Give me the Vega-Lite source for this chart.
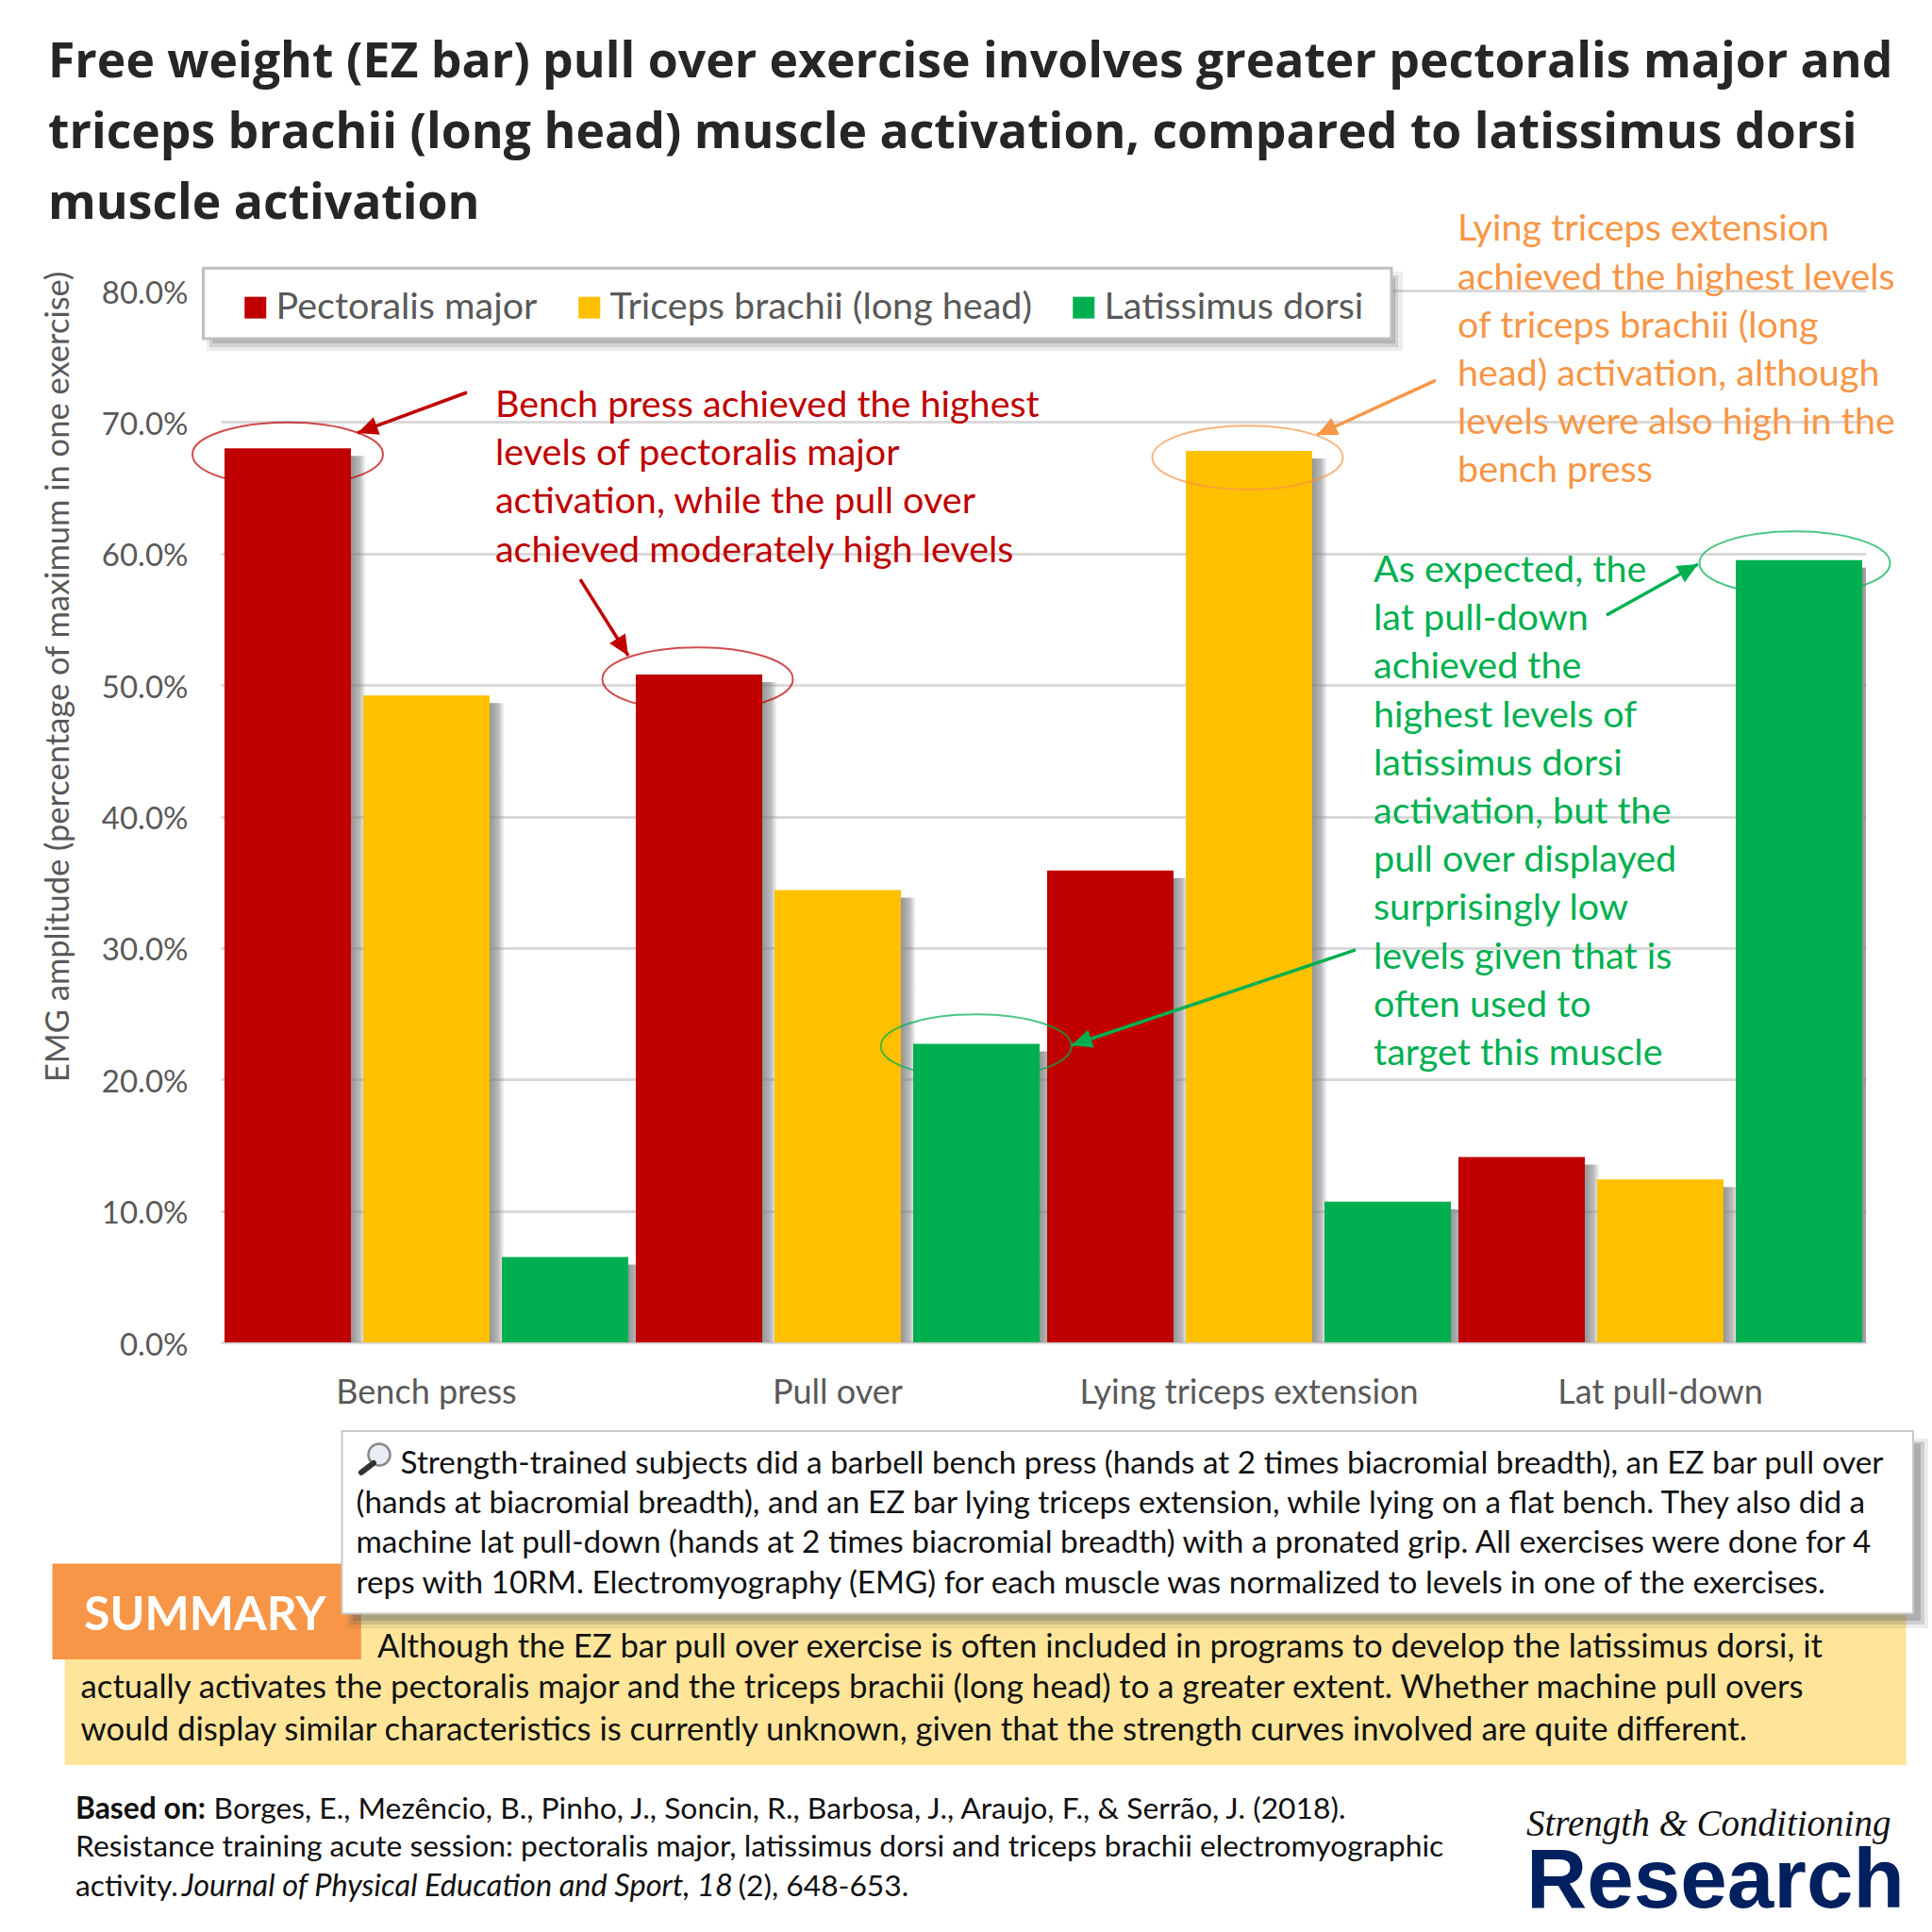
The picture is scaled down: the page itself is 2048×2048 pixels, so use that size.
{"$schema":"https://vega.github.io/schema/vega-lite/v6.json","width":1744,"height":1115,"autosize":{"type":"none"},"padding":{"left":234,"top":308,"right":70,"bottom":625},"background":"white","config":{"font":"Lato","view":{"stroke":null}},
"title":{"text":["Free weight (EZ bar) pull over exercise involves greater pectoralis major and","triceps brachii (long head) muscle activation, compared to latissimus dorsi","muscle activation"],"anchor":"start","frame":"group","dx":-183,"offset":-19,"fontSize":51.7,"lineHeight":75,"font":"Open Sans","fontWeight":700,"color":"#262626"},
"resolve":{"scale":{"x":"independent"},"axis":{"x":"independent","y":"independent"}},
"layer":[
{"data":{"name":"bars","values":[
{"exercise":"Bench press","muscle":"Pectoralis major","emg":0.68},{"exercise":"Bench press","muscle":"Triceps brachii (long head)","emg":0.492},{"exercise":"Bench press","muscle":"Latissimus dorsi","emg":0.065},
{"exercise":"Pull over","muscle":"Pectoralis major","emg":0.508},{"exercise":"Pull over","muscle":"Triceps brachii (long head)","emg":0.344},{"exercise":"Pull over","muscle":"Latissimus dorsi","emg":0.227},
{"exercise":"Lying triceps extension","muscle":"Pectoralis major","emg":0.359},{"exercise":"Lying triceps extension","muscle":"Triceps brachii (long head)","emg":0.678},{"exercise":"Lying triceps extension","muscle":"Latissimus dorsi","emg":0.107},
{"exercise":"Lat pull-down","muscle":"Pectoralis major","emg":0.141},{"exercise":"Lat pull-down","muscle":"Triceps brachii (long head)","emg":0.124},{"exercise":"Lat pull-down","muscle":"Latissimus dorsi","emg":0.595}]},
"resolve":{"scale":{"xOffset":"independent"}},
"encoding":{"x":{"field":"exercise","type":"nominal","sort":null,"scale":{"paddingInner":0,"paddingOuter":0},"axis":{"title":null,"labelAngle":0,"ticks":false,"domainColor":"#d9d9d9","domainWidth":3,"labelColor":"#595959","labelFontSize":36,"labelPadding":36,"labelFont":"Lato","labelLimit":600}},
"y":{"field":"emg","type":"quantitative","scale":{"domain":[0,0.8],"nice":false},"axis":{"title":"EMG amplitude (percentage of maximum in one exercise)","format":".1%","values":[0,0.1,0.2,0.3,0.4,0.5,0.6,0.7,0.8],"ticks":false,"domain":false,"grid":true,"gridColor":"#d9d9d9","gridWidth":3,"labelColor":"#595959","labelFontSize":33,"labelPadding":35,"labelOffset":3,"titleColor":"#595959","titleFontSize":34.5,"titleFontWeight":"normal","titleX":-155,"titleY":409,"titleFont":"Lato"}}},
"layer":[
{"mark":{"type":"bar","clip":true,"yOffset":8,"fill":{"gradient":"linear","x1":0,"y1":0,"x2":1,"y2":0,"stops":[{"offset":0,"color":"rgba(130,130,130,0.85)"},{"offset":0.88,"color":"rgba(130,130,130,0.85)"},{"offset":0.95,"color":"rgba(130,130,130,0.55)"},{"offset":1,"color":"rgba(130,130,130,0)"}]}},"encoding":{"xOffset":{"field":"muscle","type":"nominal","sort":["Pectoralis major","Triceps brachii (long head)","Latissimus dorsi"],"scale":{"range":[16,452],"paddingInner":0.0884,"paddingOuter":0.027}}}},
{"mark":{"type":"bar"},"encoding":{"xOffset":{"field":"muscle","type":"nominal","sort":["Pectoralis major","Triceps brachii (long head)","Latissimus dorsi"],"scale":{"paddingInner":0.0884,"paddingOuter":0.027}},"color":{"field":"muscle","type":"nominal","scale":{"domain":["Pectoralis major","Triceps brachii (long head)","Latissimus dorsi"],"range":["#C00000","#FFC000","#00B050"]},"legend":{"title":null,"orient":"none","legendX":17,"legendY":-2,"direction":"horizontal","columns":3,"symbolType":"square","symbolSize":529,"symbolStrokeWidth":0,"labelFontSize":39.5,"labelColor":"#595959","labelOffset":2,"columnPadding":35,"padding":0,"labelLimit":600}}}}
]},
{"data":{"values":[{"note":"annotations"}]},
"layer":[
{"mark":{"type":"rect","fill":"#808080","opacity":0.15},"encoding":{"x":{"datum":-0.0344,"type":"quantitative","scale":{"domain":[0,4],"nice":false,"zero":false},"axis":null},"x2":{"datum":2.8739},"y":{"datum":0.8144,"type":"quantitative","axis":null},"y2":{"datum":0.7541}}},
{"mark":{"type":"rect","fill":"#808080","opacity":0.25},"encoding":{"x":{"datum":-0.0275,"type":"quantitative","axis":null},"x2":{"datum":2.8624},"y":{"datum":0.8115,"type":"quantitative","axis":null},"y2":{"datum":0.757}}},
{"mark":{"type":"rect","fill":"#808080","opacity":0.35},"encoding":{"x":{"datum":-0.0206,"type":"quantitative","axis":null},"x2":{"datum":2.8555},"y":{"datum":0.8093,"type":"quantitative","axis":null},"y2":{"datum":0.7598}}},
{"mark":{"type":"rect","fill":"white","stroke":"#bfbfbf","strokeWidth":3},"encoding":{"x":{"datum":-0.0424,"type":"quantitative","axis":null},"x2":{"datum":2.8463},"y":{"datum":0.8171,"type":"quantitative","axis":null},"y2":{"datum":0.7634}}},

{"mark":{"type":"point","filled":false,"stroke":"#C00000","strokeWidth":2,"size":40804,"shape":"M-1,0A1,0.335,0,1,1,1,0A1,0.335,0,1,1,-1,0Z"},"encoding":{"x":{"datum":0.1628,"type":"quantitative","axis":null},"y":{"datum":0.6754,"type":"quantitative","axis":null}}},
{"mark":{"type":"point","filled":false,"stroke":"#C00000","strokeWidth":2,"size":40804,"shape":"M-1,0A1,0.335,0,1,1,1,0A1,0.335,0,1,1,-1,0Z"},"encoding":{"x":{"datum":1.1594,"type":"quantitative","axis":null},"y":{"datum":0.5044,"type":"quantitative","axis":null}}},
{"mark":{"type":"point","filled":false,"stroke":"#F79646","strokeWidth":2,"size":40804,"shape":"M-1,0A1,0.335,0,1,1,1,0A1,0.335,0,1,1,-1,0Z"},"encoding":{"x":{"datum":2.4966,"type":"quantitative","axis":null},"y":{"datum":0.673,"type":"quantitative","axis":null}}},
{"mark":{"type":"point","filled":false,"stroke":"#00B050","strokeWidth":2,"size":40804,"shape":"M-1,0A1,0.335,0,1,1,1,0A1,0.335,0,1,1,-1,0Z"},"encoding":{"x":{"datum":3.8268,"type":"quantitative","axis":null},"y":{"datum":0.5926,"type":"quantitative","axis":null}}},
{"mark":{"type":"point","filled":false,"stroke":"#00B050","strokeWidth":2,"size":40804,"shape":"M-1,0A1,0.335,0,1,1,1,0A1,0.335,0,1,1,-1,0Z"},"encoding":{"x":{"datum":1.8365,"type":"quantitative","axis":null},"y":{"datum":0.2253,"type":"quantitative","axis":null}}},

{"mark":{"type":"rule","stroke":"#C00000","strokeWidth":3.5},"encoding":{"x":{"datum":0.5986,"type":"quantitative","axis":null},"x2":{"datum":0.3326},"y":{"datum":0.7225,"type":"quantitative","axis":null},"y2":{"datum":0.6917}}},
{"mark":{"type":"point","filled":true,"fill":"#C00000","opacity":1,"size":1296,"angle":249.7,"shape":"M0,0L-0.55,1.2L0.55,1.2Z"},"encoding":{"x":{"datum":0.3326,"type":"quantitative","axis":null},"y":{"datum":0.6917,"type":"quantitative","axis":null}}},
{"mark":{"type":"rule","stroke":"#C00000","strokeWidth":3.5},"encoding":{"x":{"datum":0.8739,"type":"quantitative","axis":null},"x2":{"datum":0.9908},"y":{"datum":0.5804,"type":"quantitative","axis":null},"y2":{"datum":0.5223}}},
{"mark":{"type":"point","filled":true,"fill":"#C00000","opacity":1,"size":1296,"angle":147.8,"shape":"M0,0L-0.55,1.2L0.55,1.2Z"},"encoding":{"x":{"datum":0.9908,"type":"quantitative","axis":null},"y":{"datum":0.5223,"type":"quantitative","axis":null}}},
{"mark":{"type":"rule","stroke":"#F79646","strokeWidth":3.5},"encoding":{"x":{"datum":2.9541,"type":"quantitative","axis":null},"x2":{"datum":2.6651},"y":{"datum":0.7318,"type":"quantitative","axis":null},"y2":{"datum":0.6902}}},
{"mark":{"type":"point","filled":true,"fill":"#F79646","opacity":1,"size":1296,"angle":245.3,"shape":"M0,0L-0.55,1.2L0.55,1.2Z"},"encoding":{"x":{"datum":2.6651,"type":"quantitative","axis":null},"y":{"datum":0.6902,"type":"quantitative","axis":null}}},
{"mark":{"type":"rule","stroke":"#00B050","strokeWidth":3.5},"encoding":{"x":{"datum":3.3693,"type":"quantitative","axis":null},"x2":{"datum":3.5917},"y":{"datum":0.5532,"type":"quantitative","axis":null},"y2":{"datum":0.5919}}},
{"mark":{"type":"point","filled":true,"fill":"#00B050","opacity":1,"size":1296,"angle":60.9,"shape":"M0,0L-0.55,1.2L0.55,1.2Z"},"encoding":{"x":{"datum":3.5917,"type":"quantitative","axis":null},"y":{"datum":0.5919,"type":"quantitative","axis":null}}},
{"mark":{"type":"rule","stroke":"#00B050","strokeWidth":3.5},"encoding":{"x":{"datum":2.7592,"type":"quantitative","axis":null},"x2":{"datum":2.0688},"y":{"datum":0.2985,"type":"quantitative","axis":null},"y2":{"datum":0.226}}},
{"mark":{"type":"point","filled":true,"fill":"#00B050","opacity":1,"size":1296,"angle":251.5,"shape":"M0,0L-0.55,1.2L0.55,1.2Z"},"encoding":{"x":{"datum":2.0688,"type":"quantitative","axis":null},"y":{"datum":0.226,"type":"quantitative","axis":null}}},

{"mark":{"type":"text","align":"left","baseline":"alphabetic","fontSize":39.5,"lineHeight":51.2,"color":"#C00000","text":["Bench press achieved the highest","levels of pectoralis major","activation, while the pull over","achieved moderately high levels"]},"encoding":{"x":{"datum":0.6674,"type":"quantitative","axis":null},"y":{"datum":0.7039,"type":"quantitative","axis":null}}},
{"mark":{"type":"text","align":"left","baseline":"alphabetic","fontSize":39.5,"lineHeight":51.2,"color":"#F79646","text":["Lying triceps extension","achieved the highest levels","of triceps brachii (long","head) activation, although","levels were also high in the","bench press"]},"encoding":{"x":{"datum":3.0069,"type":"quantitative","axis":null},"y":{"datum":0.8377,"type":"quantitative","axis":null}}},
{"mark":{"type":"text","align":"left","baseline":"alphabetic","fontSize":39.5,"lineHeight":51.2,"color":"#00B050","text":["As expected, the","lat pull-down","achieved the","highest levels of","latissimus dorsi","activation, but the","pull over displayed","surprisingly low","levels given that is","often used to","target this muscle"]},"encoding":{"x":{"datum":2.8028,"type":"quantitative","axis":null},"y":{"datum":0.5783,"type":"quantitative","axis":null}}},

{"mark":{"type":"rect","fill":"#FEE599"},"encoding":{"x":{"datum":-0.3794,"type":"quantitative","axis":null},"x2":{"datum":4.0979},"y":{"datum":-0.1987,"type":"quantitative","axis":null},"y2":{"datum":-0.3214}}},
{"mark":{"type":"rect","fill":"#F79646"},"encoding":{"x":{"datum":-0.4094,"type":"quantitative","axis":null},"x2":{"datum":0.3413},"y":{"datum":-0.1682,"type":"quantitative","axis":null},"y2":{"datum":-0.2411}}},
{"mark":{"type":"rect","fill":"#606060","opacity":0.12},"encoding":{"x":{"datum":0.3073,"type":"quantitative","axis":null},"x2":{"datum":4.1514},"y":{"datum":-0.0732,"type":"quantitative","axis":null},"y2":{"datum":-0.2174}}},
{"mark":{"type":"rect","fill":"#606060","opacity":0.2},"encoding":{"x":{"datum":0.3142,"type":"quantitative","axis":null},"x2":{"datum":4.1422},"y":{"datum":-0.0753,"type":"quantitative","axis":null},"y2":{"datum":-0.2145}}},
{"mark":{"type":"rect","fill":"#606060","opacity":0.3},"encoding":{"x":{"datum":0.3211,"type":"quantitative","axis":null},"x2":{"datum":4.133},"y":{"datum":-0.0768,"type":"quantitative","axis":null},"y2":{"datum":-0.2117}}},
{"mark":{"type":"rect","fill":"white","stroke":"#c8c8c8","strokeWidth":2},"encoding":{"x":{"datum":0.2947,"type":"quantitative","axis":null},"x2":{"datum":4.1147},"y":{"datum":-0.0674,"type":"quantitative","axis":null},"y2":{"datum":-0.2062}}},

{"mark":{"type":"point","filled":true,"fill":"#e8eef5","stroke":"#8a8a8a","strokeWidth":2.5,"opacity":1,"size":531,"shape":"circle"},"encoding":{"x":{"datum":0.3853,"type":"quantitative","axis":null},"y":{"datum":-0.0854,"type":"quantitative","axis":null}}},
{"mark":{"type":"rule","stroke":"#333333","strokeWidth":6,"strokeCap":"round"},"encoding":{"x":{"datum":0.3716,"type":"quantitative","axis":null},"x2":{"datum":0.3417},"y":{"datum":-0.0918,"type":"quantitative","axis":null},"y2":{"datum":-0.099}}},

{"mark":{"type":"text","align":"left","baseline":"alphabetic","fontSize":33.3,"color":"#111111","text":"Strength-trained subjects did a barbell bench press (hands at 2 times biacromial breadth), an EZ bar pull over"},"encoding":{"x":{"datum":0.4372,"type":"quantitative","axis":null},"y":{"datum":-0.0994,"type":"quantitative","axis":null}}},
{"mark":{"type":"text","align":"left","baseline":"alphabetic","fontSize":33.3,"lineHeight":42.3,"color":"#111111","text":["(hands at biacromial breadth), and an EZ bar lying triceps extension, while lying on a flat bench. They also did a","machine lat pull-down (hands at 2 times biacromial breadth) with a pronated grip. All exercises were done for 4","reps with 10RM. Electromyography (EMG) for each muscle was normalized to levels in one of the exercises."]},"encoding":{"x":{"datum":0.3291,"type":"quantitative","axis":null},"y":{"datum":-0.1298,"type":"quantitative","axis":null}}},

{"mark":{"type":"text","align":"left","baseline":"alphabetic","fontSize":50,"fontWeight":"bold","color":"white","text":"SUMMARY"},"encoding":{"x":{"datum":-0.3326,"type":"quantitative","axis":null},"y":{"datum":-0.2185,"type":"quantitative","axis":null}}},
{"mark":{"type":"text","align":"left","baseline":"alphabetic","fontSize":34.7,"color":"#111111","text":"Although the EZ bar pull over exercise is often included in programs to develop the latissimus dorsi, it"},"encoding":{"x":{"datum":0.3807,"type":"quantitative","axis":null},"y":{"datum":-0.2395,"type":"quantitative","axis":null}}},
{"mark":{"type":"text","align":"left","baseline":"alphabetic","fontSize":34.7,"lineHeight":44.4,"color":"#111111","text":["actually activates the pectoralis major and the triceps brachii (long head) to a greater extent. Whether machine pull overs","would display similar characteristics is currently unknown, given that the strength curves involved are quite different."]},"encoding":{"x":{"datum":-0.3404,"type":"quantitative","axis":null},"y":{"datum":-0.2708,"type":"quantitative","axis":null}}},

{"mark":{"type":"text","align":"left","baseline":"alphabetic","fontSize":31.8,"fontWeight":"bold","color":"#111111","text":"Based on:"},"encoding":{"x":{"datum":-0.3532,"type":"quantitative","axis":null},"y":{"datum":-0.362,"type":"quantitative","axis":null}}},
{"mark":{"type":"text","align":"left","baseline":"alphabetic","fontSize":31.8,"color":"#111111","text":"Borges, E., Mezêncio, B., Pinho, J., Soncin, R., Barbosa, J., Araujo, F., & Serrão, J. (2018)."},"encoding":{"x":{"datum":-0.017,"type":"quantitative","axis":null},"y":{"datum":-0.362,"type":"quantitative","axis":null}}},
{"mark":{"type":"text","align":"left","baseline":"alphabetic","fontSize":31.8,"color":"#111111","text":"Resistance training acute session: pectoralis major, latissimus dorsi and triceps brachii electromyographic"},"encoding":{"x":{"datum":-0.3532,"type":"quantitative","axis":null},"y":{"datum":-0.391,"type":"quantitative","axis":null}}},
{"mark":{"type":"text","align":"left","baseline":"alphabetic","fontSize":31.8,"color":"#111111","text":"activity."},"encoding":{"x":{"datum":-0.3532,"type":"quantitative","axis":null},"y":{"datum":-0.421,"type":"quantitative","axis":null}}},
{"mark":{"type":"text","align":"left","baseline":"alphabetic","fontSize":32.5,"fontStyle":"italic","color":"#111111","text":"Journal of Physical Education and Sport, 18"},"encoding":{"x":{"datum":-0.0947,"type":"quantitative","axis":null},"y":{"datum":-0.421,"type":"quantitative","axis":null}}},
{"mark":{"type":"text","align":"left","baseline":"alphabetic","fontSize":31.8,"color":"#111111","text":"(2), 648-653."},"encoding":{"x":{"datum":1.258,"type":"quantitative","axis":null},"y":{"datum":-0.421,"type":"quantitative","axis":null}}},

{"mark":{"type":"text","align":"left","baseline":"alphabetic","fontSize":39,"font":"Liberation Serif","fontStyle":"italic","color":"#111111","text":"Strength & Conditioning"},"encoding":{"x":{"datum":3.1743,"type":"quantitative","axis":null},"y":{"datum":-0.375,"type":"quantitative","axis":null}}},
{"mark":{"type":"text","align":"left","baseline":"alphabetic","fontSize":89,"font":"Liberation Sans","fontWeight":"bold","color":"#002060","text":"Research"},"encoding":{"x":{"datum":3.1743,"type":"quantitative","axis":null},"y":{"datum":-0.4296,"type":"quantitative","axis":null}}}
]}
]}
